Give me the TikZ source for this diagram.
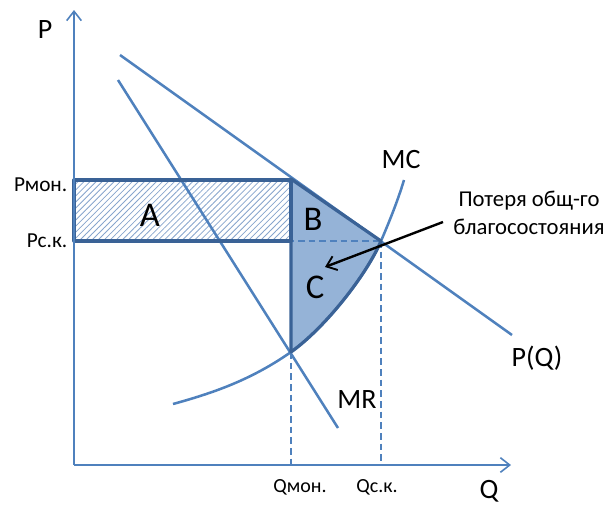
\documentclass[tikz,border=0pt]{standalone}
\usepackage{fontspec}
\setmainfont{Carlito}
\usetikzlibrary{arrows.meta,patterns.meta}
\definecolor{lineblue}{RGB}{79,129,189}
\definecolor{darkblue}{RGB}{58,98,150}
\definecolor{fillblue}{RGB}{149,179,215}
\definecolor{hatchblue}{RGB}{135,165,205}
\begin{document}
\begin{tikzpicture}[x=0.75pt,y=-0.75pt,
  axis/.style={draw=lineblue,line width=1.5pt,-{Straight Barb[length=7pt,width=11pt,line width=1.2pt]}},
  curve/.style={draw=lineblue,line width=1.9pt},
  border/.style={draw=darkblue,line width=2.4pt,line join=round},
  guide/.style={draw=lineblue,line width=1.2pt,dash pattern=on 5pt off 3pt},
  big/.style={font=\fontsize{26}{30}\selectfont},
  mid/.style={font=\fontsize{21}{24}\selectfont},
  small/.style={font=\fontsize{15}{18}\selectfont},
  note/.style={font=\fontsize{17}{21}\selectfont}]
\useasboundingbox (0,0) rectangle (609,507);
% key points
\coordinate (O) at (74,465);
\coordinate (Ytop) at (74,10);
\coordinate (Xend) at (511,465);
\coordinate (D1) at (120,55);
\coordinate (D2) at (512,335);
\coordinate (M1) at (118,80);
\coordinate (M2) at (338,428);
\coordinate (Pm) at (291,179);
\coordinate (E) at (381,241);
\coordinate (K) at (291,352);
\coordinate (Rtl) at (74,180);
\coordinate (Rbr) at (291,241);
\coordinate (Rbl) at (74,241);
\coordinate (Qm) at (291,465);
\coordinate (Qc) at (381,465);
\coordinate (MCs) at (173,404);
\coordinate (MCe) at (404,180);
% region B+C
\fill[fillblue] (Pm) -- (E) .. controls (367,274) and (326,327) .. (K) -- cycle;
% rectangle A
\fill[white] (Rtl) rectangle (Rbr);
\fill[pattern={Lines[angle=45,distance=3.2pt,line width=0.6pt]},pattern color=hatchblue] (Rtl) rectangle (Rbr);
% guides
\draw[guide] (Rbl) -- (E);
\draw[guide] (K) -- (Qm);
\draw[guide] (E) -- (Qc);
% curves
\draw[curve] (D1) -- (D2);
\draw[curve] (M1) -- (M2);
\draw[curve] (MCs) .. controls (213,393) and (251,380) .. (K)
  .. controls (326,327) and (367,274) .. (E)
  .. controls (390,220) and (398,200) .. (MCe);
% borders
\draw[border] (Rtl) rectangle (Rbr);
\draw[border] (Pm) -- (E) .. controls (367,274) and (326,327) .. (K) -- cycle;
% axes
\draw[axis] (O) -- (Ytop);
\draw[axis] (O) -- (Xend);
% labels
\node[mid] (lP) at (45,30) {P};
\node[mid] (lQ) at (489,491) {Q};
\node[small,anchor=east,font=\fontsize{16}{19}\selectfont] (lPm) at (72,185) {Рмон.};
\node[small,anchor=east,font=\fontsize{16}{19}\selectfont] (lPc) at (72,241) {Рс.к.};
\node[big] (lA) at (150,215) {A};
\node[big] (lB) at (313,219) {B};
\node[big] (lC) at (315,287) {C};
\node[mid] (lMC) at (401,160) {MC};
\node[mid] (lMR) at (357,400) {MR};
\node[mid] (lPQ) at (537,358) {P(Q)};
\node[small] (lQm) at (300,487) {Qмон.};
\node[small] (lQc) at (377,487) {Qс.к.};
\node[note,align=center] (note) at (529,213) {Потеря общ-го\\благосостояния};
\coordinate (tip) at (325,267);
\draw[black,line width=1.8pt,-{Straight Barb[length=7pt,width=11pt,line width=1.4pt]}] (443,222) -- (tip);
\end{tikzpicture}
\end{document}
